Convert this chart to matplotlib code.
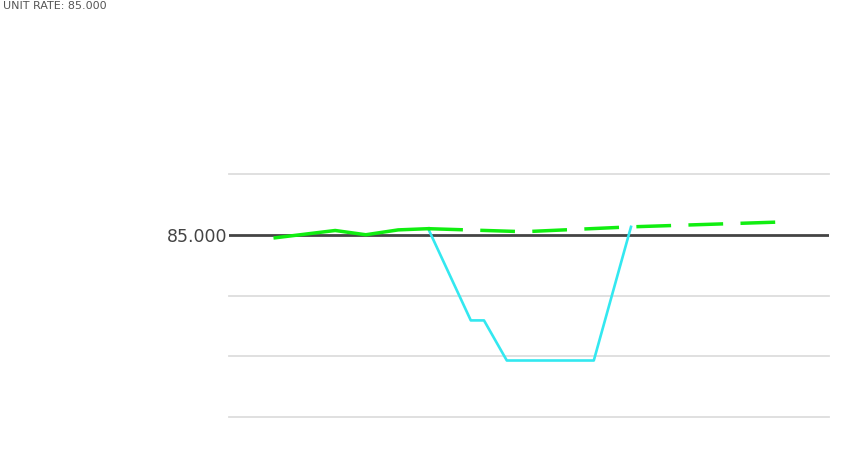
import matplotlib
matplotlib.use("Agg")
import matplotlib.pyplot as plt

# Data
green_solid_x = [7.7, 17.7, 22.8, 28.2, 33.2]
green_solid_y = [84.95, 85.07, 85.00, 85.08, 85.10]
green_dash_x = [33.2, 49.2, 67.0, 92.0]
green_dash_y = [85.10, 85.05, 85.13, 85.21]
blue_x = [33.2, 40.3, 42.5, 46.3, 60.8, 67.0]
blue_y = [85.10, 83.59, 83.59, 82.93, 82.93, 85.13]
grid_values = [86, 84, 83, 82]
ref_value = 85
ref_label = "85.000"
title_text = "UNIT RATE: 85.000"

fig = plt.figure(figsize=(8.6, 4.5), dpi=100)
ax = fig.add_axes([229/860, 33/450, 600/860, 243/450])
ax.set_xlim(0, 100)
ax.set_ylim(82, 86)
for s in ax.spines.values():
    s.set_visible(False)
ax.set_xticks([])
ax.set_yticks([ref_value])
ax.set_yticklabels([ref_label], fontsize=12.5, color="#444444")
ax.tick_params(axis="y", length=0, pad=1)

for g in grid_values:
    ax.axhline(g, color="#dddddd", lw=1.3, clip_on=False, zorder=1)
ax.axhline(ref_value, color="#444444", lw=2.0, zorder=2)

ax.plot(blue_x, blue_y, color="#33e8f0", lw=1.9, zorder=3)
ax.plot(green_solid_x, green_solid_y, color="#11ee11", lw=2.5, zorder=4,
        solid_joinstyle="round")
ax.plot(green_dash_x, green_dash_y, color="#11ee11", lw=2.5, ls=(0, (10, 5)), zorder=4)

fig.text(0.003, 0.998, title_text, fontsize=8, color="#555555", va="top", ha="left")

fig.savefig("out.png", dpi=100)
